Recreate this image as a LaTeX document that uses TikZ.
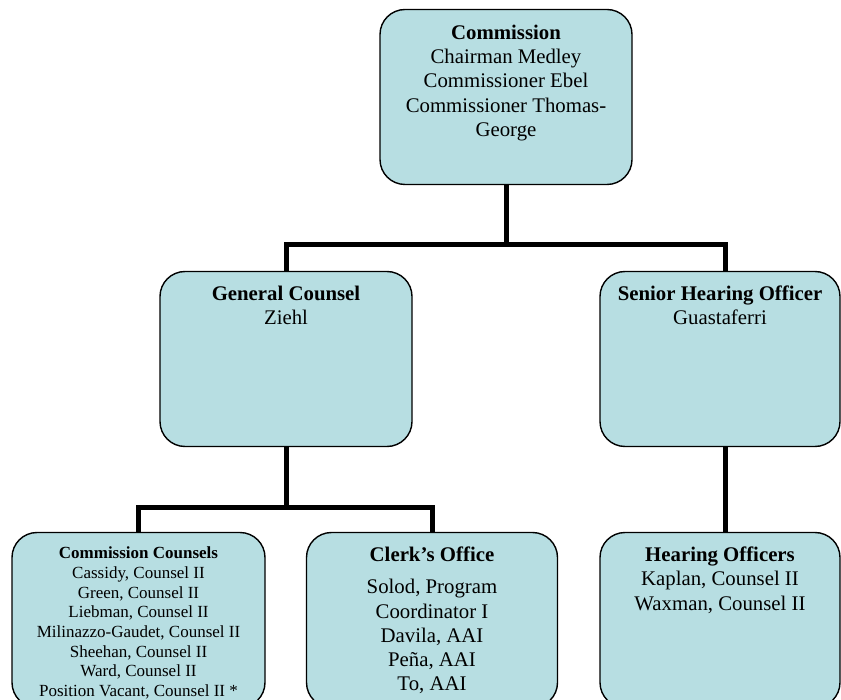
\documentclass[tikz,border=0pt]{standalone}
\usepackage{fontspec}
\setmainfont{Liberation Serif}
\usetikzlibrary{calc,positioning}
\definecolor{BoxTeal}{HTML}{B7DEE2}
\tikzset{
    unit/.style = {draw, line width=1.4pt, fill=BoxTeal, rectangle, rounded corners=25pt,
        minimum height=175pt,
        minimum width=252pt},
    caption/.style = {anchor=north, inner sep=0pt, align=center,
        font=\fontsize{20.8}{24.2}\selectfont},
    smallcap/.style = {caption, font=\fontsize{17}{19.7}\selectfont},
    link/.style = {draw, line width=5pt, line join=miter}
}
\begin{document}
\begin{tikzpicture}[x=1pt,y=-1pt]
            \useasboundingbox (0,0) rectangle (841,700);
            \clip (0,0) rectangle (841,700);
            % boxes
            \node[unit] (cm) at (506,97) {};
            \node[unit] (gc) at (286,359) {};
            \node[unit,minimum width=240pt] (sho) at (720,359) {};
            \node[unit,minimum width=253pt] (cc) at (138.5,620) {};
            \node[unit,minimum width=251pt] (clerk) at (432,620) {};
            \node[unit,minimum width=240pt] (ho) at (720,620) {};
            % texts
            \node[caption] (cmtext) at ([yshift=-16pt]cm.north) {\textbf{Commission}\\Chairman Medley\\Commissioner Ebel\\Commissioner Thomas-\\George};
            \node[caption] (gctext) at ([yshift=-15pt]gc.north) {\textbf{General Counsel}\\Ziehl};
            \node[caption] (shotext) at ([yshift=-15pt]sho.north) {\textbf{Senior Hearing Officer}\\Guastaferri};
            \node[smallcap] (cctext) at ([yshift=-15pt]cc.north) {\textbf{Commission Counsels}\\Cassidy, Counsel II\\Green, Counsel II\\Liebman, Counsel II\\Milinazzo-Gaudet, Counsel II\\Sheehan, Counsel II\\Ward, Counsel II\\Position Vacant, Counsel II *};
            \node[caption] (clerktext) at ([yshift=-15pt]clerk.north) {\textbf{Clerk’s Office}\\[8pt]Solod, Program\\Coordinator I\\Davila, AAI\\Peña, AAI\\To, AAI};
            \node[caption] (hotext) at ([yshift=-15pt]ho.north) {\textbf{Hearing Officers}\\Kaplan, Counsel II\\Waxman, Counsel II};
            % connectors
            \coordinate (top) at (506,245);
            \coordinate (mid) at (286,507);
            \draw[link] (cm.south) -- (top) -| (gc.north);
            \draw[link] (top) -| ([xshift=5pt]sho.north);
            \draw[link] (gc.south) -- (mid) -| (cc.north);
            \draw[link] (mid) -| (clerk.north);
            \draw[link] ([xshift=5pt]sho.south) -- ([xshift=5pt]ho.north);
\end{tikzpicture}
\end{document}
